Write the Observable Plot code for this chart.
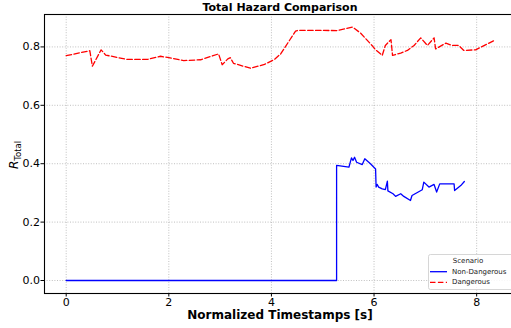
<!DOCTYPE html>
<html>
<head>
<meta charset="utf-8">
<script src="https://cdn.jsdelivr.net/npm/d3@7"></script>
<script src="https://cdn.jsdelivr.net/npm/@observablehq/plot@0.6"></script>
<style>
  html, body { margin: 0; padding: 0; background: white; overflow: hidden; }
</style>
</head>
<body>
<div id="chart"></div>
<script>
const title = "Total Hazard Comparison";
const xLabel = "Normalized Timestamps [s]";
const yLabelMain = "R";
const yLabelSub = "Total";
const xTicks = [0, 2, 4, 6, 8];
const yTicks = [0.0, 0.2, 0.4, 0.6, 0.8];
const legendTitle = "Scenario";
const seriesNames = ["Non-Dangerous", "Dangerous"];
const seriesColors = ["#0000ff", "#ff0000"];

const safeX = [0, 5.27, 5.27, 5.51, 5.56, 5.59, 5.62, 5.66, 5.77, 5.82, 5.93, 6.03, 6.04, 6.06, 6.09, 6.16, 6.22, 6.26, 6.27, 6.37, 6.42, 6.52, 6.58, 6.71, 6.74, 6.94, 6.97, 7.07, 7.17, 7.22, 7.28, 7.56, 7.57, 7.69, 7.76];
const safeY = [0, 0, 0.394, 0.388, 0.420, 0.411, 0.422, 0.405, 0.397, 0.417, 0.400, 0.382, 0.320, 0.329, 0.320, 0.314, 0.311, 0.340, 0.307, 0.297, 0.288, 0.297, 0.288, 0.274, 0.291, 0.311, 0.337, 0.320, 0.329, 0.303, 0.331, 0.331, 0.308, 0.325, 0.339];

const dangerX = [0.00, 0.46, 0.51, 0.68, 0.77, 1.19, 1.58, 1.84, 2.00, 2.29, 2.62, 2.97, 3.04, 3.15, 3.20, 3.26, 3.59, 3.85, 4.05, 4.18, 4.47, 4.52, 5.28, 5.58, 5.74, 5.96, 6.03, 6.16, 6.22, 6.33, 6.36, 6.52, 6.65, 6.78, 6.91, 7.04, 7.17, 7.20, 7.40, 7.52, 7.65, 7.75, 7.98, 8.34];
const dangerY = [0.770, 0.787, 0.734, 0.790, 0.772, 0.757, 0.757, 0.768, 0.763, 0.753, 0.756, 0.776, 0.739, 0.759, 0.763, 0.744, 0.727, 0.739, 0.756, 0.776, 0.854, 0.857, 0.856, 0.868, 0.847, 0.805, 0.790, 0.771, 0.805, 0.825, 0.771, 0.779, 0.788, 0.805, 0.831, 0.805, 0.831, 0.793, 0.813, 0.805, 0.805, 0.788, 0.790, 0.822];

const safe = safeX.map((x, i) => ({x, y: safeY[i]}));
const danger = dangerX.map((x, i) => ({x, y: dangerY[i]}));

const font = "DejaVu Sans, sans-serif";
const dash = "5.5,2.4";

const chart = Plot.plot({
  width: 511,
  height: 328,
  marginLeft: 44,
  marginRight: -4,
  marginTop: 14,
  marginBottom: 35,
  style: {fontFamily: font, fontSize: "11px", color: "black", background: "white"},
  x: {domain: [-0.423, 8.757], ticks: xTicks, tickFormat: d3.format("d"), tickSize: 3.5, tickPadding: 1.5, label: null},
  y: {domain: [-0.0445, 0.911], ticks: yTicks, tickFormat: d3.format(".1f"), tickSize: 3.5, tickPadding: 1, label: null},
  marks: [
    Plot.ruleX(xTicks, {stroke: "#b0b0b0", strokeWidth: 0.8, strokeDasharray: "1,1.6"}),
    Plot.ruleY(yTicks, {stroke: "#b0b0b0", strokeWidth: 0.8, strokeDasharray: "1,1.6"}),
    Plot.line(safe, {x: "x", y: "y", stroke: seriesColors[0], strokeWidth: 1.3}),
    Plot.line(danger, {x: "x", y: "y", stroke: seriesColors[1], strokeWidth: 1.3, strokeDasharray: dash}),
    Plot.frame({stroke: "black", strokeWidth: 1.1}),
    Plot.text([title], {frameAnchor: "top", dy: -7, lineAnchor: "middle", fontWeight: "bold", fontSize: 11, fill: "black"}),
    Plot.text([xLabel], {frameAnchor: "bottom", dy: 22, lineAnchor: "middle", fontWeight: "bold", fontSize: 12, fill: "black"})
  ]
});

const svg = d3.select(chart);

// y label with subscript
const yl = svg.append("text")
  .attr("transform", "translate(18,155) rotate(-90)")
  .attr("text-anchor", "middle")
  .attr("font-family", font)
  .attr("font-size", 12)
  .attr("fill", "black");
yl.append("tspan").attr("font-style", "italic").text(yLabelMain);
yl.append("tspan").attr("font-size", 8.5).attr("dy", 3).text(yLabelSub);

// legend
const lg = svg.append("g").attr("font-family", font).attr("font-size", 7).attr("text-anchor", "start");
lg.append("rect").attr("x", 428.5).attr("y", 254.5).attr("width", 90).attr("height", 35)
  .attr("rx", 2).attr("fill", "white").attr("fill-opacity", 0.85).attr("stroke", "#cccccc").attr("stroke-width", 0.8);
lg.append("text").attr("x", 468).attr("y", 261).attr("text-anchor", "middle").attr("dominant-baseline", "central").attr("fill", "#222").text(legendTitle);
seriesNames.forEach((name, i) => {
  const yy = 271.7 + i * 10.6;
  lg.append("line").attr("x1", 430).attr("x2", 447).attr("y1", yy).attr("y2", yy)
    .attr("stroke", seriesColors[i]).attr("stroke-width", 1.3)
    .attr("stroke-dasharray", i === 1 ? dash : null);
  lg.append("text").attr("x", 452).attr("y", yy).attr("text-anchor", "start").attr("dominant-baseline", "central").attr("fill", "#222").text(name);
});

document.getElementById("chart").appendChild(chart);
</script>
</body>
</html>
